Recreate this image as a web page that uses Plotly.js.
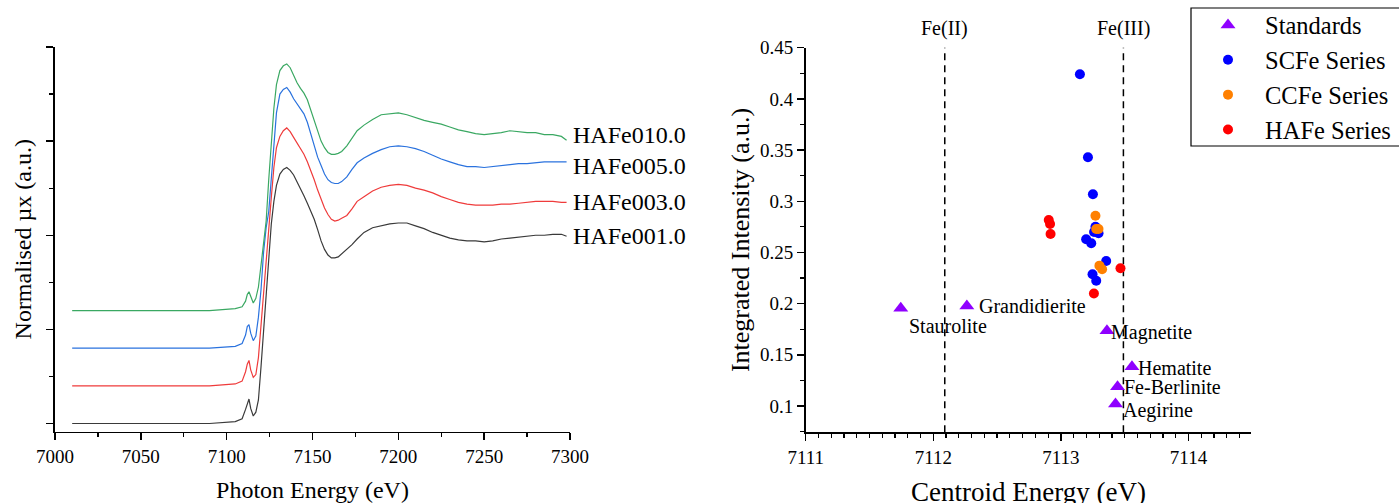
<!DOCTYPE html>
<html>
<head>
<meta charset="utf-8">
<script src="https://cdn.plot.ly/plotly-3.0.1.min.js"></script>
<style>
  html, body { margin: 0; padding: 0; background: #ffffff; }
  #chart { width: 1399px; height: 503px; }
</style>
</head>
<body>
<div id="chart"></div>
<script>
// ---------- Left panel: Fe K-edge XANES spectra ----------
const energy = [7010, 7050, 7090, 7105, 7109, 7111, 7112, 7113, 7114, 7115.5,
  7117, 7118.5, 7120, 7121.5, 7123, 7124.5, 7126, 7127.5, 7129, 7131,
  7133, 7135, 7137, 7139, 7141, 7143, 7145, 7147, 7149, 7151,
  7153, 7155, 7157, 7159, 7161, 7163, 7165, 7167, 7170, 7173,
  7176, 7180, 7185, 7190, 7195, 7200, 7205, 7210, 7215, 7220,
  7225, 7230, 7235, 7240, 7245, 7250, 7255, 7260, 7265, 7270,
  7275, 7280, 7285, 7290, 7295, 7298];

const hafe001 = [0.00, 0.00, 0.00, 0.02, 0.05, 0.15, 0.22, 0.26, 0.16, 0.08,
  0.12, 0.25, 0.60, 0.97, 1.40, 1.80, 2.12, 2.36, 2.53, 2.65,
  2.70, 2.72, 2.69, 2.64, 2.57, 2.49, 2.42, 2.34, 2.26, 2.17,
  2.06, 1.94, 1.85, 1.79, 1.76, 1.76, 1.77, 1.80, 1.85, 1.90,
  1.96, 2.03, 2.08, 2.10, 2.12, 2.13, 2.13, 2.10, 2.07, 2.03,
  2.00, 1.97, 1.95, 1.94, 1.94, 1.93, 1.94, 1.96, 1.97, 1.98,
  1.99, 2.00, 2.00, 2.01, 2.01, 1.99];

const hafe003 = [0.00, 0.00, 0.00, 0.02, 0.05, 0.15, 0.23, 0.27, 0.17, 0.09,
  0.12, 0.30, 0.65, 1.02, 1.40, 1.65, 2.00, 2.32, 2.53, 2.65,
  2.71, 2.74, 2.70, 2.64, 2.58, 2.52, 2.46, 2.38, 2.29, 2.19,
  2.08, 1.98, 1.89, 1.82, 1.77, 1.75, 1.76, 1.78, 1.81, 1.88,
  1.96, 2.01, 2.07, 2.11, 2.13, 2.14, 2.13, 2.10, 2.08, 2.05,
  2.01, 1.98, 1.95, 1.93, 1.92, 1.92, 1.92, 1.93, 1.93, 1.94,
  1.95, 1.96, 1.96, 1.96, 1.95, 1.95];

const hafe005 = [0.00, 0.00, 0.00, 0.02, 0.05, 0.14, 0.23, 0.25, 0.16, 0.08,
  0.13, 0.33, 0.62, 1.02, 1.28, 1.45, 1.78, 2.18, 2.50, 2.70,
  2.75, 2.77, 2.72, 2.65, 2.60, 2.55, 2.49, 2.40, 2.27, 2.15,
  2.03, 1.94, 1.85, 1.79, 1.76, 1.75, 1.75, 1.77, 1.82, 1.90,
  1.97, 2.02, 2.07, 2.11, 2.14, 2.15, 2.14, 2.12, 2.09, 2.05,
  2.01, 1.98, 1.95, 1.93, 1.93, 1.92, 1.93, 1.94, 1.95, 1.96,
  1.96, 1.97, 1.98, 1.98, 1.98, 1.98];

const hafe010 = [0.00, 0.00, 0.00, 0.02, 0.04, 0.10, 0.17, 0.20, 0.15, 0.08,
  0.13, 0.25, 0.48, 0.72, 0.95, 1.39, 1.75, 2.15, 2.40, 2.55,
  2.60, 2.62, 2.58, 2.50, 2.42, 2.36, 2.31, 2.24, 2.13, 2.01,
  1.90, 1.80, 1.73, 1.68, 1.66, 1.66, 1.67, 1.69, 1.75, 1.83,
  1.91, 1.97, 2.03, 2.08, 2.09, 2.10, 2.08, 2.05, 2.02, 2.00,
  1.98, 1.95, 1.92, 1.90, 1.88, 1.87, 1.88, 1.89, 1.91, 1.90,
  1.89, 1.89, 1.87, 1.87, 1.85, 1.81];

const spectraNames   = ['HAFe001.0', 'HAFe003.0', 'HAFe005.0', 'HAFe010.0'];
const spectraOffsets = [0, 0.4, 0.8, 1.2];
const spectraValues  = [hafe001, hafe003, hafe005, hafe010];

// ---------- Right panel: pre-edge centroid vs integrated intensity ----------
const standardNames = ['Staurolite', 'Grandidierite', 'Magnetite', 'Hematite', 'Fe-Berlinite', 'Aegirine'];
const standardsE = [7111.745, 7112.263, 7113.361, 7113.557, 7113.444, 7113.428];
const standardsI = [0.1955, 0.1977, 0.1736, 0.1384, 0.1189, 0.1020];

const scfeE = [7113.149, 7113.212, 7113.251, 7113.271, 7113.295, 7113.260, 7113.198, 7113.238, 7113.355, 7113.248, 7113.277];
const scfeI = [0.424, 0.343, 0.3068, 0.2751, 0.2687, 0.2700, 0.2628, 0.2589, 0.2416, 0.2287, 0.2224];

const ccfeE = [7113.271, 7113.277, 7113.295, 7113.302, 7113.323];
const ccfeI = [0.2859, 0.2729, 0.2729, 0.2371, 0.2335];

const hafeE = [7112.905, 7112.915, 7112.919, 7113.467, 7113.259];
const hafeI = [0.2817, 0.2778, 0.2680, 0.2345, 0.2099];

const refLineNames = ['Fe(II)', 'Fe(III)'];
const refLineE = [7112.09, 7113.49];

// ---------- Styling ----------
const FONT = 'Liberation Serif, Times New Roman, serif';
const lineColors = ['#3a3a3a', '#ef3b3b', '#2a72de', '#3aa862'];
const labelShift = [0, 0, -4, 5];

const traces = [];
spectraValues.forEach((vals, i) => {
  traces.push({
    type: 'scatter', mode: 'lines', xaxis: 'x', yaxis: 'y',
    x: energy, y: vals.map(v => v + spectraOffsets[i]),
    line: { color: lineColors[i], width: 1.2 },
    name: spectraNames[i], showlegend: false, hoverinfo: 'skip'
  });
});

traces.push({
  type: 'scatter', mode: 'markers', xaxis: 'x2', yaxis: 'y2',
  x: standardsE, y: standardsI, name: 'Standards',
  marker: { symbol: 'triangle-up', size: 13, color: '#8f00ff' }
});
traces.push({
  type: 'scatter', mode: 'markers', xaxis: 'x2', yaxis: 'y2',
  x: scfeE, y: scfeI, name: 'SCFe Series',
  marker: { symbol: 'circle', size: 10, color: '#0000ff' }
});
traces.push({
  type: 'scatter', mode: 'markers', xaxis: 'x2', yaxis: 'y2',
  x: ccfeE, y: ccfeI, name: 'CCFe Series',
  marker: { symbol: 'circle', size: 10, color: '#ff8000' }
});
traces.push({
  type: 'scatter', mode: 'markers', xaxis: 'x2', yaxis: 'y2',
  x: hafeE, y: hafeI, name: 'HAFe Series',
  marker: { symbol: 'circle', size: 10, color: '#ff0000' }
});

const annotations = [];
spectraNames.forEach((nm, i) => {
  const vals = spectraValues[i];
  annotations.push({
    xref: 'x', yref: 'y', x: 7300, y: vals[vals.length - 1] + spectraOffsets[i],
    text: nm, showarrow: false, xanchor: 'left', yanchor: 'middle',
    xshift: 1, yshift: labelShift[i],
    font: { family: FONT, size: 24, color: '#000' }
  });
});

const stdShift = [[6, -18], [10, 0], [2, -2], [4, -1], [4, 0], [5, -7]];
standardNames.forEach((nm, i) => {
  annotations.push({
    xref: 'x2', yref: 'y2', x: standardsE[i], y: standardsI[i],
    text: nm, showarrow: false, xanchor: 'left', yanchor: 'middle',
    xshift: stdShift[i][0], yshift: stdShift[i][1],
    font: { family: FONT, size: 20, color: '#000' }
  });
});

refLineNames.forEach((nm, i) => {
  annotations.push({
    xref: 'x2', yref: 'paper', x: refLineE[i], y: 1 - 29 / 503,
    text: nm, showarrow: false, xanchor: 'center', yanchor: 'middle',
    font: { family: FONT, size: 20, color: '#000' }
  });
});

// right-panel x-axis title, sitting at the bottom edge as in the original
annotations.push({
  xref: 'x2 domain', yref: 'paper', x: 0.5, y: 1 - 492 / 503,
  text: 'Centroid Energy (eV)', showarrow: false, xanchor: 'center', yanchor: 'middle',
  font: { family: FONT, size: 27, color: '#000' }
});

const shapes = refLineE.map(e => ({
  type: 'line', xref: 'x2', yref: 'y2 domain', x0: e, x1: e, y0: 0, y1: 1,
  line: { color: '#000', width: 1.5, dash: '7px,5px' }, layer: 'below'
}));
// legend frame (runs off the right edge of the picture, as in the original)
shapes.push({
  type: 'rect', xref: 'paper', yref: 'paper',
  x0: 1191 / 1399, x1: 1.05, y0: 1 - 146 / 503, y1: 1 - 8 / 503,
  line: { color: '#000', width: 1.2 }, fillcolor: 'rgba(0,0,0,0)', layer: 'above'
});

const axisCommon = {
  showgrid: false, zeroline: false, showline: true, linecolor: '#000', linewidth: 1.6,
  ticks: 'outside', tickcolor: '#000', tickwidth: 1.4, ticklen: 7,
  tickfont: { family: FONT, size: 19, color: '#000' }, fixedrange: true
};

const layout = {
  width: 1399, height: 503,
  margin: { l: 0, r: 0, t: 0, b: 0, autoexpand: false },
  paper_bgcolor: '#fff', plot_bgcolor: '#fff',
  font: { family: FONT, color: '#000' },
  showlegend: true,
  legend: {
    x: 1191 / 1399, y: 1 - 2.5 / 503, xanchor: 'left', yanchor: 'top',
    borderwidth: 0, bgcolor: 'rgba(0,0,0,0)',
    font: { family: FONT, size: 24.5, color: '#000' },
    itemwidth: 64, tracegroupgap: 0
  },
  xaxis: Object.assign({}, axisCommon, {
    domain: [55 / 1399, 570 / 1399], range: [7000, 7300],
    tick0: 7000, dtick: 50,
    minor: { dtick: 25, ticks: 'outside', ticklen: 4, tickcolor: '#000', tickwidth: 1.2 },
    title: { text: 'Photon Energy (eV)', font: { family: FONT, size: 24, color: '#000' } },
    anchor: 'y'
  }),
  yaxis: Object.assign({}, axisCommon, {
    domain: [1 - 431.5 / 503, 1 - 47 / 503], range: [-0.085, 4],
    tick0: 0, dtick: 1, showticklabels: false,
    minor: { dtick: 0.5, ticks: 'outside', ticklen: 4, tickcolor: '#000', tickwidth: 1.2 },
    title: { text: 'Normalised µx (a.u.)', font: { family: FONT, size: 24, color: '#000' }, standoff: 8 },
    automargin: true,
    anchor: 'x'
  }),
  xaxis2: Object.assign({}, axisCommon, {
    domain: [805.7 / 1399, 1251 / 1399], range: [7111, 7114.49],
    tick0: 7111, dtick: 1,
    minor: { dtick: 0.1, ticks: 'outside', ticklen: 4, tickcolor: '#000', tickwidth: 1.2 },
    anchor: 'y2'
  }),
  yaxis2: Object.assign({}, axisCommon, {
    domain: [1 - 432.3 / 503, 1 - 47.7 / 503], range: [0.0743, 0.45],
    tick0: 0.1, dtick: 0.05,
    minor: { dtick: 0.025, ticks: 'outside', ticklen: 4, tickcolor: '#000', tickwidth: 1.2 },
    title: { text: 'Integrated Intensity (a.u.)', font: { family: FONT, size: 26, color: '#000' }, standoff: 3 },
    automargin: true,
    anchor: 'x2'
  }),
  annotations: annotations,
  shapes: shapes
};

Plotly.newPlot('chart', traces, layout, { staticPlot: true, displayModeBar: false });
</script>
</body>
</html>
